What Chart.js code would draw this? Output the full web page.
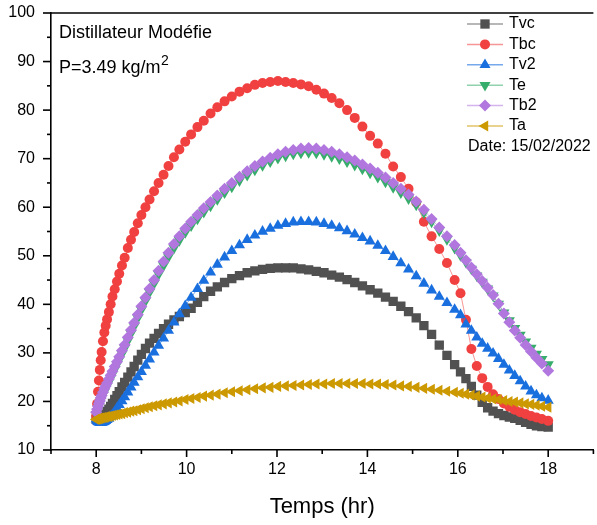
<!DOCTYPE html>
<html><head><meta charset="utf-8">
<script src="https://cdn.jsdelivr.net/npm/chart.js@4.4.0/dist/chart.umd.min.js"></script>
<style>
html,body{margin:0;padding:0;overflow:hidden;background:#fff;width:597px;height:525px}
#wrap{position:absolute;left:0;top:0;width:600px;height:525px}
</style>
</head><body><div id="wrap"><canvas id="c" width="600" height="525"></canvas></div>
<script>
const times = [
8.00, 8.02, 8.04, 8.06, 8.08, 8.10, 8.12, 8.15, 8.18, 8.21,
8.24, 8.28, 8.32, 8.36, 8.41, 8.46, 8.51, 8.57, 8.63, 8.70,
8.77, 8.84, 8.92, 9.00, 9.09, 9.18, 9.28, 9.38, 9.49, 9.60,
9.72, 9.84, 9.97, 10.10, 10.24, 10.38, 10.53, 10.68, 10.84,
11.00, 11.17, 11.34, 11.51, 11.68, 11.85, 12.02, 12.19, 12.36, 12.53,
12.70, 12.87, 13.04, 13.21, 13.38, 13.55, 13.72, 13.89, 14.06, 14.23,
14.40, 14.57, 14.74, 14.91, 15.08, 15.25, 15.42, 15.59, 15.76, 15.93,
16.06, 16.18, 16.30, 16.42, 16.54, 16.66, 16.78, 16.90, 17.02, 17.14,
17.26, 17.38, 17.50, 17.62, 17.74, 17.86, 18.00];

const tvc = [
16.3, 16.2, 16.2, 16.3, 16.4, 16.5, 16.7, 16.9, 17.2, 17.5,
17.9, 18.4, 19.0, 19.6, 20.4, 21.2, 22.0, 23.0, 23.9, 25.0,
26.1, 27.2, 28.5, 29.7, 30.9, 32.0, 33.0, 34.0, 35.0, 35.9,
36.8, 37.5, 38.3, 39.2, 40.4, 41.6, 42.7, 43.6, 44.5,
45.3, 45.9, 46.5, 46.9, 47.2, 47.4, 47.5, 47.5, 47.5, 47.3,
47.1, 46.8, 46.5, 46.0, 45.6, 45.1, 44.5, 43.8, 43.0, 42.3,
41.5, 40.6, 39.6, 38.5, 37.2, 35.6, 33.8, 31.6, 29.5, 27.6,
26.1, 24.7, 23.1, 21.3, 19.8, 18.7, 18.0, 17.5, 17.1, 16.8,
16.5, 16.1, 15.7, 15.3, 15.0, 14.8, 14.7];

const tbc = [
17.0, 19.5, 22.0, 24.3, 26.5, 28.5, 30.2, 32.4, 34.2, 35.6,
36.9, 38.4, 40.0, 41.6, 43.1, 44.7, 46.3, 48.0, 49.6, 51.6,
53.3, 54.9, 56.7, 58.4, 60.0, 61.6, 63.3, 65.0, 66.7, 68.5,
70.3, 71.9, 73.5, 75.0, 76.5, 77.8, 79.3, 80.6, 81.8,
82.8, 83.8, 84.5, 85.2, 85.6, 85.8, 86.0, 85.8, 85.6, 85.3,
84.9, 84.2, 83.4, 82.5, 81.4, 80.0, 78.4, 76.6, 74.7, 73.1,
71.0, 68.4, 66.2, 63.8, 61.0, 57.0, 54.0, 51.4, 48.5, 45.0,
42.3, 36.8, 30.8, 27.3, 24.8, 23.0, 21.5, 20.5, 19.6, 18.9,
18.3, 17.8, 17.4, 17.0, 16.7, 16.4, 16.0];

const tv2 = [
16.3, 16.0, 15.8, 15.7, 15.6, 15.6, 15.6, 15.7, 15.8, 16.0,
16.2, 16.5, 16.9, 17.3, 17.9, 18.6, 19.3, 20.1, 20.9, 21.9,
22.9, 23.9, 25.0, 26.1, 27.4, 28.7, 30.1, 31.5, 33.0, 34.6,
36.3, 38.0, 39.7, 41.4, 43.2, 44.9, 46.6, 48.2, 49.7,
51.0, 52.2, 53.3, 54.2, 55.0, 55.6, 56.2, 56.6, 56.9, 57.0,
57.0, 56.9, 56.6, 56.2, 55.7, 55.1, 54.4, 53.7, 53.0, 52.1,
51.0, 49.8, 48.5, 47.2, 45.8, 44.3, 42.9, 41.6, 40.3, 38.9,
37.8, 35.9, 34.6, 33.2, 31.9, 30.9, 29.9, 28.8, 27.6, 26.4,
25.3, 24.2, 23.1, 22.1, 21.3, 20.7, 20.2];

const te = [
17.3, 17.9, 18.5, 19.1, 19.6, 20.2, 20.7, 21.4, 22.0, 22.6,
23.2, 24.0, 24.8, 25.6, 26.6, 27.6, 28.6, 29.8, 31.0, 32.5,
34.0, 35.5, 37.2, 38.9, 40.7, 42.5, 44.3, 46.2, 48.0, 49.8,
51.6, 53.2, 54.8, 56.2, 57.6, 59.0, 60.3, 61.6, 63.0,
64.2, 65.5, 66.6, 67.7, 68.6, 69.4, 70.1, 70.6, 71.0, 71.2,
71.3, 71.2, 70.9, 70.5, 70.0, 69.4, 68.7, 67.9, 67.1, 66.2,
65.2, 64.1, 63.0, 61.8, 60.5, 58.9, 57.0, 55.2, 53.4, 51.6,
50.1, 48.7, 47.3, 45.9, 44.6, 43.2, 41.8, 40.1, 38.3, 36.7,
35.1, 33.7, 32.3, 31.0, 29.8, 28.7, 27.6];

const tb2 = [
17.8, 18.4, 19.0, 19.6, 20.1, 20.7, 21.2, 21.9, 22.6, 23.2,
23.8, 24.6, 25.4, 26.2, 27.2, 28.2, 29.2, 30.5, 31.7, 33.2,
34.7, 36.2, 37.9, 39.6, 41.4, 43.2, 45.0, 46.9, 48.8, 50.6,
52.4, 54.0, 55.6, 57.0, 58.4, 59.8, 61.1, 62.4, 63.8,
65.0, 66.3, 67.4, 68.5, 69.4, 70.2, 70.9, 71.4, 71.8, 72.1,
72.2, 72.1, 71.8, 71.4, 70.9, 70.3, 69.6, 68.8, 68.0, 67.1,
66.1, 65.0, 63.8, 62.6, 61.2, 59.5, 57.6, 55.8, 54.0, 52.2,
50.6, 49.1, 47.6, 46.2, 44.8, 43.4, 41.9, 40.1, 38.1, 36.3,
34.6, 33.1, 31.6, 30.3, 29.0, 27.8, 26.3];

const ta = [
16.3, 16.4, 16.4, 16.5, 16.5, 16.6, 16.6, 16.7, 16.7, 16.8,
16.9, 16.9, 17.0, 17.1, 17.2, 17.3, 17.4, 17.5, 17.7, 17.8,
18.0, 18.1, 18.3, 18.5, 18.7, 18.9, 19.1, 19.3, 19.5, 19.7,
19.9, 20.1, 20.4, 20.6, 20.8, 21.1, 21.3, 21.5, 21.8,
22.0, 22.2, 22.4, 22.6, 22.8, 22.9, 23.1, 23.2, 23.3, 23.4,
23.5, 23.6, 23.6, 23.7, 23.7, 23.7, 23.7, 23.7, 23.6, 23.6,
23.5, 23.4, 23.2, 23.1, 22.9, 22.7, 22.5, 22.3, 22.1, 21.9,
21.7, 21.5, 21.3, 21.1, 20.9, 20.7, 20.5, 20.4, 20.2, 20.0,
19.9, 19.7, 19.5, 19.4, 19.2, 19.0, 18.8];

const seriesNames = ['Tvc', 'Tbc', 'Tv2', 'Te', 'Tb2', 'Ta'];
const seriesValues = [tvc, tbc, tv2, te, tb2, ta];
const xTickLabels = ['8', '10', '12', '14', '16', '18'];
const yTickLabels = ['10', '20', '30', '40', '50', '60', '70', '80', '90', '100'];
const annotationTitle = 'Distillateur Modéfie';
const annotationMass = 'P=3.49 kg/m';
const annotationSup = '2';
const dateText = 'Date: 15/02/2022';
const xTitle = 'Temps (hr)';

const FONT = '"Liberation Sans", Arial, Helvetica, sans-serif';
const styles = [
  {color: '#515151', line: 'rgba(81,81,81,0.55)',   style: 'rect',     radius: 6.6, rot: 0},
  {color: '#F14040', line: 'rgba(241,64,64,0.55)',  style: 'circle',   radius: 5.0, rot: 0},
  {color: '#1A6FDF', line: 'rgba(26,111,223,0.6)',  style: 'triangle', radius: 6.4, rot: 0},
  {color: '#37AD6B', line: 'rgba(55,173,107,0.55)', style: 'triangle', radius: 6.4, rot: 180},
  {color: '#B177DE', line: 'rgba(177,119,222,0.55)',style: 'rectRot',  radius: 6.0, rot: 0},
  {color: '#CC9900', line: 'rgba(204,153,0,0.6)',   style: 'triangle', radius: 6.4, rot: 270}
];

const datasets = seriesNames.map((name, k) => ({
  label: name,
  data: times.map((t, i) => ({x: t, y: seriesValues[k][i]})),
  borderColor: styles[k].line,
  borderWidth: 1,
  backgroundColor: styles[k].color,
  pointStyle: styles[k].style,
  pointRadius: styles[k].radius,
  pointRotation: styles[k].rot,
  pointBackgroundColor: styles[k].color,
  pointBorderColor: styles[k].color,
  pointBorderWidth: 0,
  pointHoverRadius: styles[k].radius,
  tension: 0,
  fill: false,
  order: seriesNames.length - k
}));

const decor = {
  id: 'decor',
  afterDraw(chart) {
    const {ctx, chartArea: ca, scales: {x, y}} = chart;
    ctx.save();
    ctx.strokeStyle = '#000';
    ctx.lineWidth = 1.6;
    // top frame line
    ctx.beginPath();
    ctx.moveTo(ca.left, ca.top);
    ctx.lineTo(ca.right, ca.top);
    ctx.stroke();
    // y ticks (major every 10, minor every 5)
    for (let v = y.min; v <= y.max; v += 5) {
      const py = y.getPixelForValue(v);
      const len = (v % 10 === 0) ? 8 : 4;
      ctx.beginPath();
      ctx.moveTo(ca.left, py);
      ctx.lineTo(ca.left - len, py);
      ctx.stroke();
    }
    // x ticks (major every 2, minor every 1)
    for (let v = Math.ceil(x.min); v <= x.max; v += 1) {
      const px = x.getPixelForValue(v);
      const len = (v % 2 === 0) ? 7 : 4;
      ctx.beginPath();
      ctx.moveTo(px, ca.bottom);
      ctx.lineTo(px, ca.bottom + len);
      ctx.stroke();
    }
    // annotation text
    ctx.fillStyle = '#000';
    ctx.textBaseline = 'middle';
    ctx.textAlign = 'left';
    ctx.font = '18px ' + FONT;
    ctx.fillText(annotationTitle, ca.left + 8, ca.top + 20);
    ctx.fillText(annotationMass, ca.left + 8, ca.top + 55);
    const w = ctx.measureText(annotationMass).width;
    ctx.font = '14px ' + FONT;
    ctx.fillText(annotationSup, ca.left + 8 + w + 0.5, ca.top + 48);
    // legend
    const lx0 = 467, lx1 = 503, mx = 485, tx = 509;
    ctx.font = '16px ' + FONT;
    chart.data.datasets.forEach((ds, k) => {
      const ry = ca.top + 11 + k * 20.4;
      ctx.strokeStyle = styles[k].line;
      ctx.lineWidth = 1.5;
      ctx.beginPath();
      ctx.moveTo(lx0, ry);
      ctx.lineTo(lx1, ry);
      ctx.stroke();
      ctx.fillStyle = styles[k].color;
      Chart.helpers.drawPoint(ctx, {pointStyle: styles[k].style, rotation: styles[k].rot, radius: styles[k].radius, borderWidth: 0}, mx, ry);
      ctx.fillStyle = '#000';
      ctx.fillText(ds.label, tx, ry);
    });
    ctx.fillText(dateText, 468, ca.top + 11 + 6 * 20.4);
    ctx.restore();
  }
};

new Chart(document.getElementById('c'), {
  type: 'line',
  data: {datasets},
  options: {
    responsive: false,
    animation: false,
    devicePixelRatio: 1,
    events: [],
    layout: {padding: {top: 13, right: 2, left: 0, bottom: 0}},
    plugins: {legend: {display: false}, tooltip: {enabled: false}},
    scales: {
      x: {
        type: 'linear', min: 7, max: 19,
        afterFit(s) { s.height = 75; s.paddingLeft = 0; s.paddingRight = 0; },
        grid: {display: false, drawTicks: false},
        border: {display: true, color: '#000', width: 1.6},
        ticks: {
          stepSize: 1, autoSkip: false, maxRotation: 0, padding: 10,
          color: '#000', font: {family: FONT, size: 16},
          callback: (v) => xTickLabels.includes(String(v)) ? String(v) : ''
        },
        title: {display: true, text: xTitle, color: '#000', font: {family: FONT, size: 22}, padding: {top: 0, bottom: 5}}
      },
      y: {
        type: 'linear', min: 10, max: 100,
        afterFit(s) { s.width = 51; s.paddingTop = 0; s.paddingBottom = 0; },
        grid: {display: false, drawTicks: false},
        border: {display: true, color: '#000', width: 1.6},
        ticks: {
          stepSize: 10, autoSkip: false, padding: 16,
          color: '#000', font: {family: FONT, size: 16},
          callback: (v) => yTickLabels.includes(String(v)) ? String(v) : ''
        }
      }
    }
  },
  plugins: [decor]
});
</script>
</body></html>
